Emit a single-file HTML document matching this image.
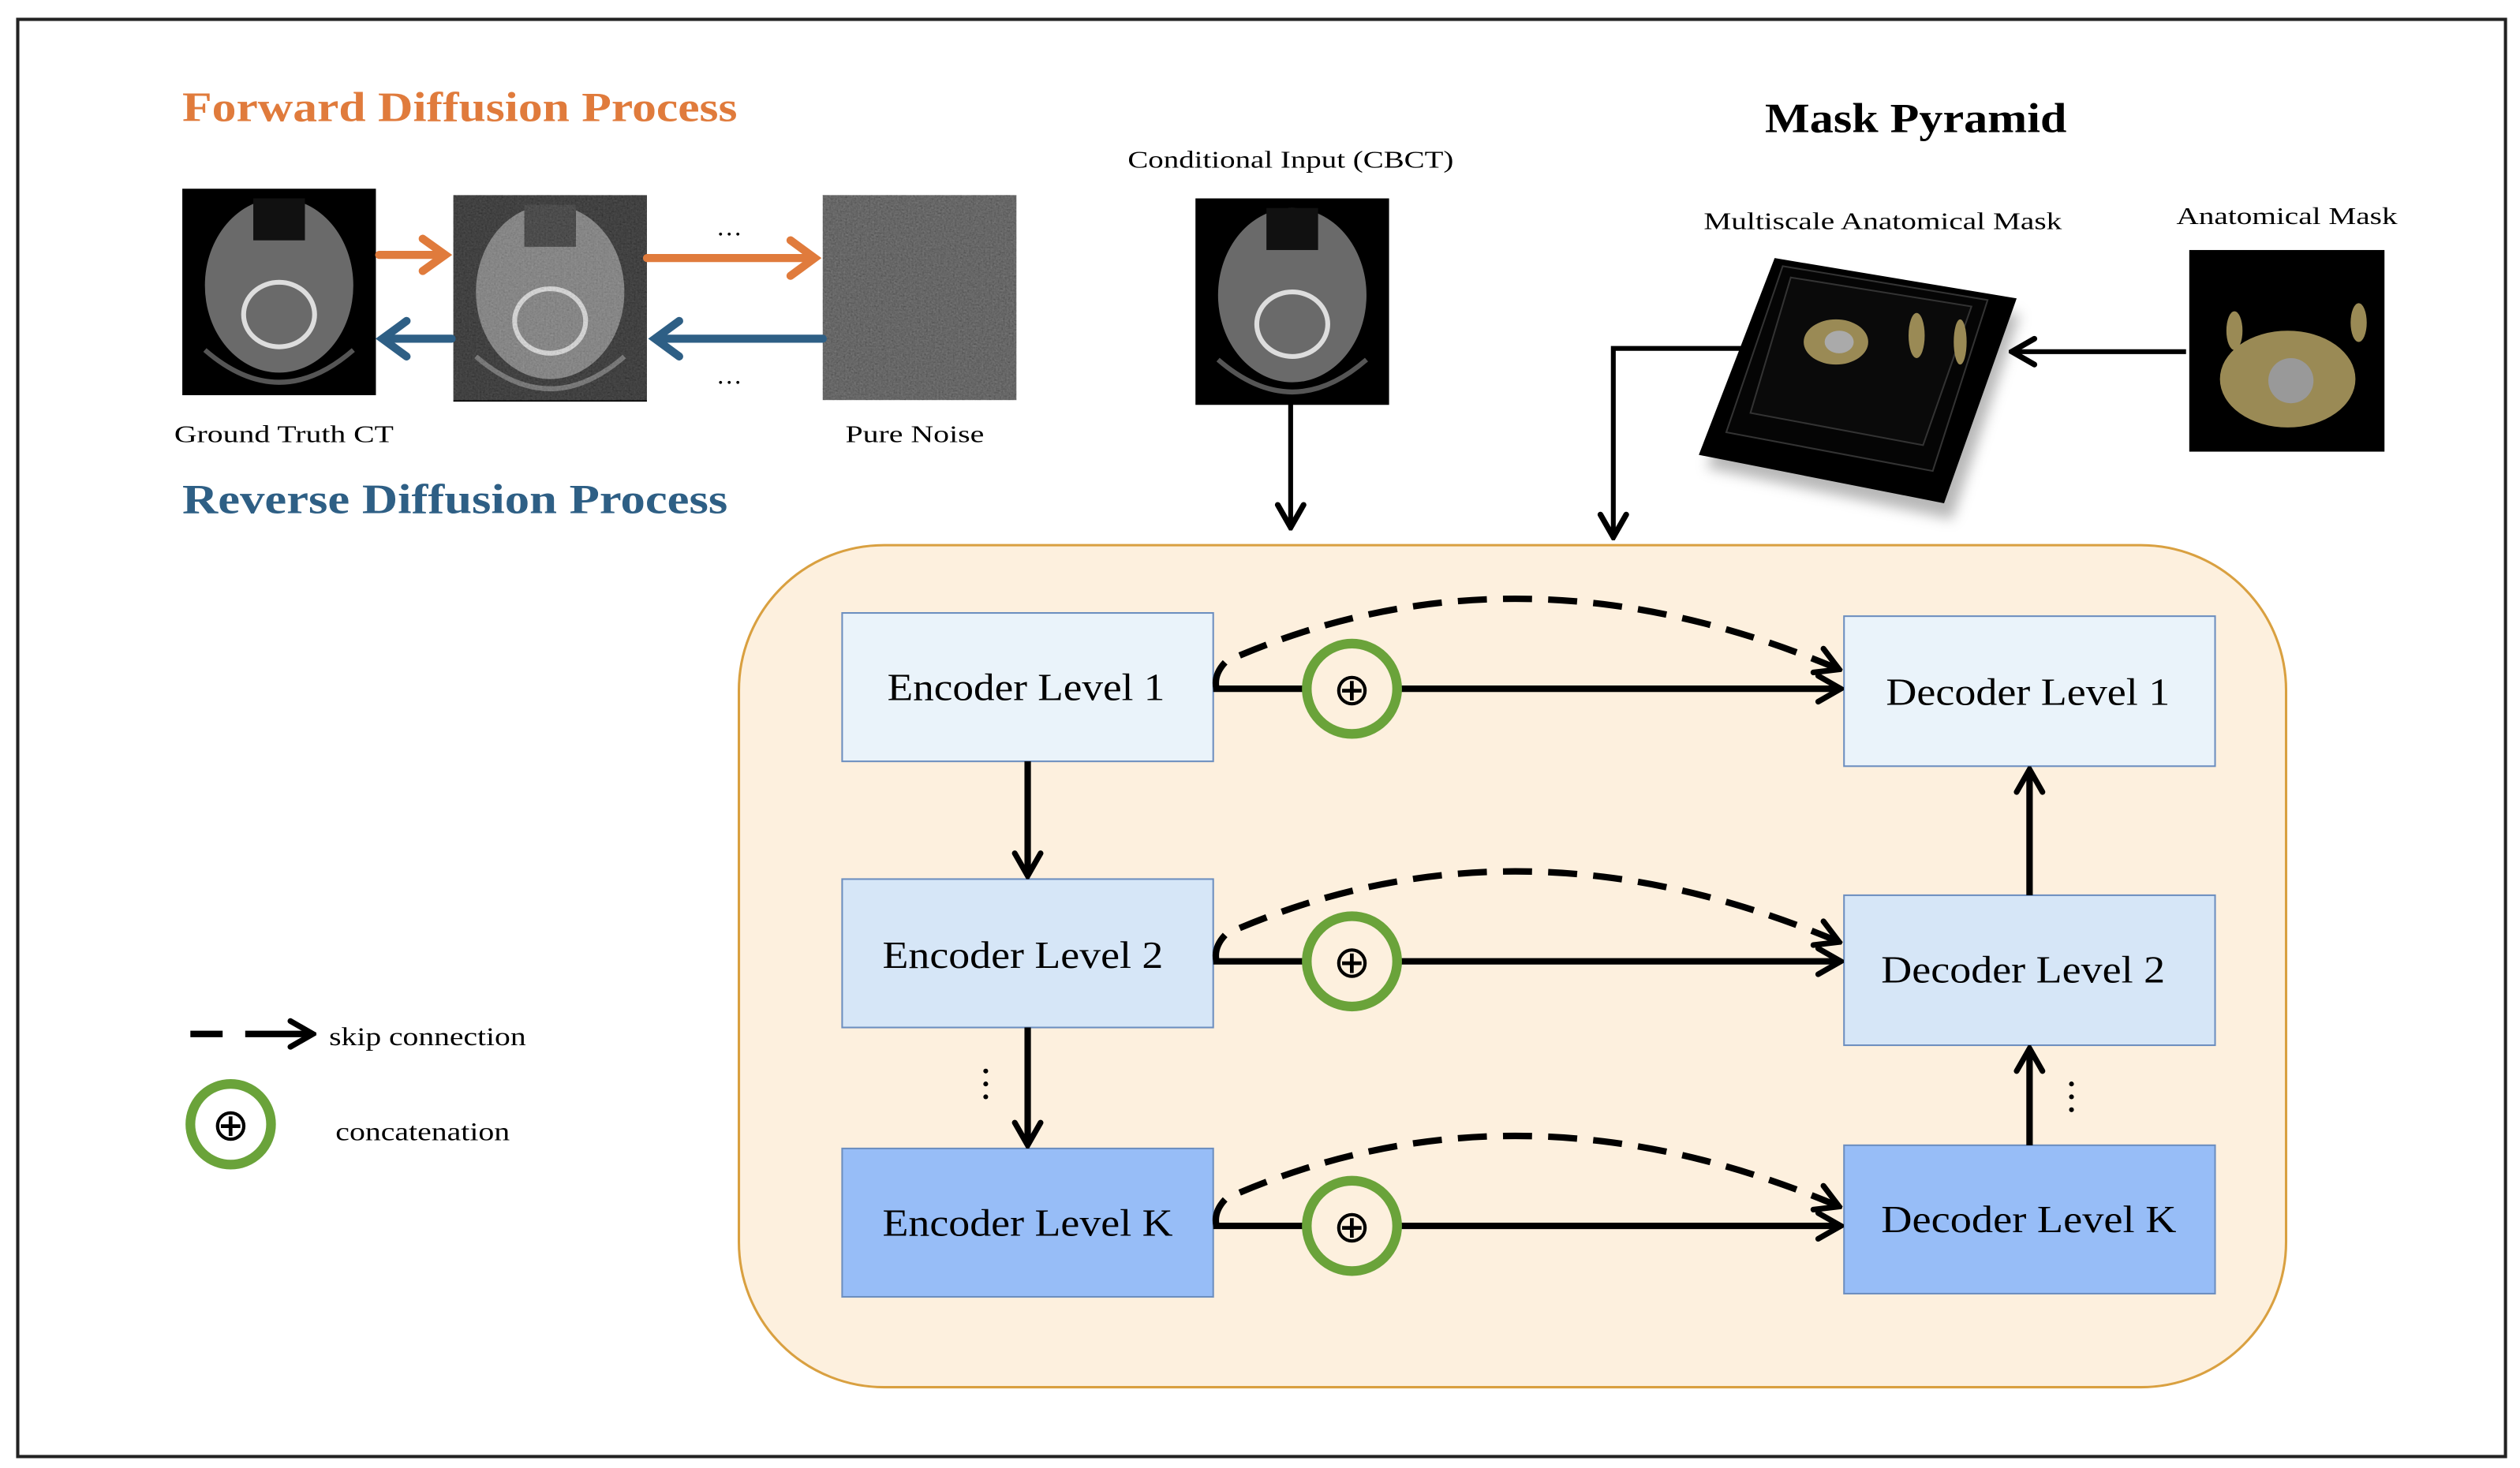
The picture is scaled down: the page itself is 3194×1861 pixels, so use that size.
<!DOCTYPE html>
<html><head><meta charset="utf-8"><style>html,body{margin:0;padding:0;background:#fff}svg{display:block}</style></head>
<body>
<svg width="3194" height="1861" viewBox="0 0 1562 910.1" preserveAspectRatio="none" xmlns="http://www.w3.org/2000/svg" font-family="Liberation Serif, serif">
<defs>
<filter id="noise" x="0" y="0" width="100%" height="100%"><feTurbulence type="fractalNoise" baseFrequency="0.9" numOctaves="2" seed="3"/><feColorMatrix type="matrix" values="0.33 0.33 0.33 0 0  0.33 0.33 0.33 0 0  0.33 0.33 0.33 0 0  0 0 0 0 1"/></filter>
<filter id="shadow" x="-20%" y="-20%" width="140%" height="140%"><feGaussianBlur stdDeviation="4"/></filter>
<marker id="ah" viewBox="0 0 20 20" refX="18" refY="10" markerWidth="20" markerHeight="20" orient="auto" markerUnits="userSpaceOnUse"><path d="M4,2 L18,10 L4,18" fill="none" stroke="#000" stroke-width="3.5" stroke-linecap="round"/></marker>
<g id="head">
<rect width="120" height="128" fill="#000"/>
<ellipse cx="60" cy="60" rx="46" ry="54" fill="#6a6a6a"/>
<ellipse cx="60" cy="78" rx="22" ry="20" fill="none" stroke="#ddd" stroke-width="3"/>
<rect x="44" y="6" width="32" height="26" fill="#111"/>
<path d="M14,100 Q60,140 106,100" fill="none" stroke="#555" stroke-width="3"/>
</g>
</defs>
<rect x="11" y="12" width="1542" height="891" fill="#fff" stroke="#222" stroke-width="2"/>

<text x="113" y="75" font-size="26" font-weight="bold" fill="#e07b3c" textLength="344" lengthAdjust="spacingAndGlyphs">Forward Diffusion Process</text>
<text x="113" y="318" font-size="26" font-weight="bold" fill="#2e5f85" textLength="338" lengthAdjust="spacingAndGlyphs">Reverse Diffusion Process</text>

<use href="#head" x="113" y="117"/>
<g><use href="#head" x="281" y="121"/><rect x="281" y="121" width="120" height="127" filter="url(#noise)" opacity="0.35"/></g>
<rect x="510" y="121" width="120" height="127" fill="#222"/>
<rect x="510" y="121" width="120" height="127" filter="url(#noise)" opacity="0.45"/>
<use href="#head" x="741" y="123"/>

<g stroke="#e07b3c" stroke-width="5" fill="none" stroke-linecap="round">
<line x1="235" y1="158" x2="274" y2="158"/><path d="M262,148 L276,158 L262,168"/>
<line x1="401" y1="160" x2="503" y2="160"/><path d="M490,149 L505,160 L490,171"/>
</g>
<g stroke="#2e5f85" stroke-width="5" fill="none" stroke-linecap="round">
<line x1="280" y1="210" x2="238" y2="210"/><path d="M252,199 L237,210 L252,221"/>
<line x1="510" y1="210" x2="407" y2="210"/><path d="M421,199 L406,210 L421,221"/>
</g>
<text x="452" y="146" font-size="16" text-anchor="middle">…</text>
<text x="452" y="238" font-size="16" text-anchor="middle">…</text>
<text x="108" y="274" font-size="15" textLength="136" lengthAdjust="spacingAndGlyphs">Ground Truth CT</text>
<text x="524" y="274" font-size="15" textLength="86" lengthAdjust="spacingAndGlyphs">Pure Noise</text>
<text x="699" y="104" font-size="15" textLength="202" lengthAdjust="spacingAndGlyphs">Conditional Input (CBCT)</text>
<line x1="800" y1="250" x2="800" y2="327" stroke="#000" stroke-width="3" marker-end="url(#ah)"/>

<text x="1094" y="82" font-size="26" font-weight="bold" textLength="187" lengthAdjust="spacingAndGlyphs">Mask Pyramid</text>
<text x="1056" y="142" font-size="15" textLength="222" lengthAdjust="spacingAndGlyphs">Multiscale Anatomical Mask</text>
<text x="1349" y="139" font-size="15" textLength="137" lengthAdjust="spacingAndGlyphs">Anatomical Mask</text>
<path d="M1105,168 L1252,195 L1210,322 L1058,290 Z" fill="#999" filter="url(#shadow)" opacity="0.7"/>
<path d="M1100,160 L1250,185 L1205,312 L1053,282 Z" fill="#000"/>
<path d="M1105,165 L1232,186 L1198,292 L1070,268 Z" fill="#050505" stroke="#333"/>
<path d="M1110,172 L1222,190 L1192,276 L1085,256 Z" fill="#0a0a0a" stroke="#333"/>
<ellipse cx="1138" cy="212" rx="20" ry="14" fill="#9a8a55"/><ellipse cx="1140" cy="212" rx="9" ry="7" fill="#aaa"/>
<ellipse cx="1188" cy="208" rx="5" ry="14" fill="#9a8a55"/><ellipse cx="1215" cy="212" rx="4" ry="14" fill="#9a8a55"/>
<rect x="1357" y="155" width="121" height="125" fill="#000"/>
<ellipse cx="1418" cy="235" rx="42" ry="30" fill="#9a8a55"/><circle cx="1420" cy="236" r="14" fill="#999"/>
<ellipse cx="1385" cy="205" rx="5" ry="12" fill="#9a8a55"/><ellipse cx="1462" cy="200" rx="5" ry="12" fill="#9a8a55"/>
<line x1="1355" y1="218" x2="1247" y2="218" stroke="#000" stroke-width="3" marker-end="url(#ah)"/>
<polyline points="1080,216 1000,216 1000,333" fill="none" stroke="#000" stroke-width="3" marker-end="url(#ah)"/>

<rect x="458" y="338" width="959" height="522" rx="90" ry="90" fill="#fdf0de" stroke="#d9a040" stroke-width="1.5"/>

<g stroke="#6c8ebf" stroke-width="1">
<rect x="522" y="380" width="230" height="92" fill="#eaf3fa"/>
<rect x="522" y="545" width="230" height="92" fill="#d6e6f7"/>
<rect x="522" y="712" width="230" height="92" fill="#97bdf7"/>
<rect x="1143" y="382" width="230" height="93" fill="#eaf3fa"/>
<rect x="1143" y="555" width="230" height="93" fill="#d6e6f7"/>
<rect x="1143" y="710" width="230" height="92" fill="#97bdf7"/>
</g>
<g font-size="24">
<text x="550" y="434" textLength="172" lengthAdjust="spacingAndGlyphs">Encoder Level 1</text>
<text x="547" y="600" textLength="174" lengthAdjust="spacingAndGlyphs">Encoder Level 2</text>
<text x="547" y="766" textLength="180" lengthAdjust="spacingAndGlyphs">Encoder Level K</text>
<text x="1169" y="437" textLength="176" lengthAdjust="spacingAndGlyphs">Decoder Level 1</text>
<text x="1166" y="609" textLength="176" lengthAdjust="spacingAndGlyphs">Decoder Level 2</text>
<text x="1166" y="764" textLength="183" lengthAdjust="spacingAndGlyphs">Decoder Level K</text>
</g>

<g stroke="#000" stroke-width="4" fill="none">
<line x1="752" y1="427" x2="1141" y2="427" marker-end="url(#ah)"/>
<line x1="752" y1="596" x2="1141" y2="596" marker-end="url(#ah)"/>
<line x1="752" y1="760" x2="1141" y2="760" marker-end="url(#ah)"/>
<path d="M754,427 Q752,418 760,410 Q940,330 1140,415" stroke-dasharray="18,10" marker-end="url(#ah)"/>
<path d="M754,596 Q752,587 760,579 Q940,499 1140,584" stroke-dasharray="18,10" marker-end="url(#ah)"/>
<path d="M754,760 Q752,751 760,743 Q940,663 1140,748" stroke-dasharray="18,10" marker-end="url(#ah)"/>
<line x1="637" y1="472" x2="637" y2="543" marker-end="url(#ah)"/>
<line x1="637" y1="637" x2="637" y2="710" marker-end="url(#ah)"/>
<line x1="1258" y1="555" x2="1258" y2="477" marker-end="url(#ah)"/>
<line x1="1258" y1="710" x2="1258" y2="650" marker-end="url(#ah)"/>
<line x1="118" y1="641" x2="138" y2="641"/>
<line x1="152" y1="641" x2="194" y2="641" marker-end="url(#ah)"/>
</g>
<g stroke="#6aa33a" stroke-width="6" fill="#fdf0de">
<circle cx="838" cy="427" r="28"/><circle cx="838" cy="596" r="28"/><circle cx="838" cy="760" r="28"/>
<circle cx="143" cy="697" r="25" fill="#fff"/>
</g>
<g font-size="28" text-anchor="middle" font-family="DejaVu Sans, sans-serif">
<text x="838" y="437">⊕</text><text x="838" y="606">⊕</text><text x="838" y="770">⊕</text><text x="143" y="707">⊕</text>
</g>
<g fill="#000"><circle cx="611" cy="664" r="1.5"/><circle cx="611" cy="672" r="1.5"/><circle cx="611" cy="680" r="1.5"/>
<circle cx="1284" cy="672" r="1.5"/><circle cx="1284" cy="680" r="1.5"/><circle cx="1284" cy="688" r="1.5"/></g>
<text x="204" y="648" font-size="16" textLength="122" lengthAdjust="spacingAndGlyphs">skip connection</text>
<text x="208" y="707" font-size="16" textLength="108" lengthAdjust="spacingAndGlyphs">concatenation</text>
</svg>
</body></html>
